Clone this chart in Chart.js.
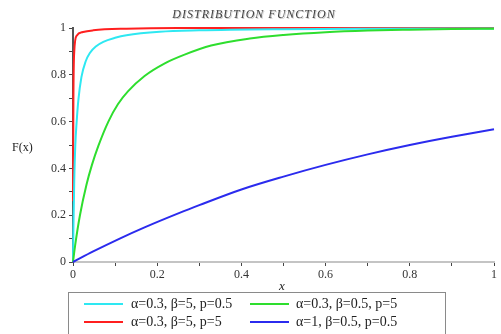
<!DOCTYPE html>
<html>
<head>
<meta charset="utf-8">
<script src="https://cdn.jsdelivr.net/npm/chart.js@4"></script>
<style>
  body { margin: 0; background: #fff; }
  #wrap { position: relative; width: 501px; height: 334px; }
  #legend {
    position: absolute; left: 68px; top: 292px; width: 376px; height: 39px;
    border: 1px solid #8a8a8a; font: 14px "Liberation Serif", serif; color: #222;
    display: grid; grid-template-columns: 167px 209px; grid-template-rows: 18px 18px; padding-top: 2px;
  }
  #legend .it { display: flex; align-items: center; white-space: nowrap; }
  #legend .ln { display: inline-block; width: 39px; height: 2px; margin: 0 8px 0 15px; }
  #legend .it:nth-child(even) .ln { margin-left: 14px; margin-right: 7px; }
</style>
</head>
<body>
<div id="wrap">
  <canvas id="c" width="501" height="334"></canvas>
  <div id="legend"></div>
</div>
<script>
const $ = id => document.getElementById(id);

// values
const cyanX = [0, 0.001, 0.003, 0.0055, 0.0087, 0.0126, 0.02, 0.03, 0.04, 0.055, 0.072, 0.1, 0.127, 0.206, 0.3, 0.5, 0.7, 1];
const cyanF = [0, 0.15, 0.35, 0.5, 0.6, 0.69, 0.79, 0.857, 0.893, 0.922, 0.941, 0.958, 0.969, 0.984, 0.99, 0.995, 0.997, 0.998];
const greenX = [0, 0.005, 0.0165, 0.032, 0.045, 0.06, 0.084, 0.107, 0.131, 0.17, 0.217, 0.265, 0.328, 0.42, 0.5, 0.6, 0.7, 0.8, 0.9, 1];
const greenF = [0, 0.07, 0.2, 0.33, 0.415, 0.495, 0.6, 0.675, 0.73, 0.795, 0.848, 0.886, 0.925, 0.955, 0.97, 0.982, 0.989, 0.993, 0.996, 0.997];
const redX = [0, 0.001, 0.003, 0.0087, 0.024, 0.048, 0.127, 0.25, 1];
const redF = [0.26, 0.7, 0.9, 0.967, 0.983, 0.99, 0.997, 1, 1];
const blueX = [0, 0.048, 0.111, 0.17, 0.253, 0.3, 0.4, 0.5, 0.6, 0.7, 0.8, 0.9, 1];
const blueF = [0, 0.045, 0.1, 0.148, 0.21, 0.243, 0.31, 0.365, 0.415, 0.46, 0.5, 0.535, 0.567];

const xTicks = [0, 0.2, 0.4, 0.6, 0.8, 1];
const yTicks = [0, 0.2, 0.4, 0.6, 0.8, 1];

const series = [
  { label: 'α=0.3, β=5, p=0.5', color: '#2ee8f2', x: cyanX, y: cyanF },
  { label: 'α=0.3, β=0.5, p=5', color: '#2ede2e', x: greenX, y: greenF },
  { label: 'α=0.3, β=5, p=5', color: '#ff1f1f', x: redX, y: redF },
  { label: 'α=1, β=0.5, p=0.5', color: '#2b2bee', x: blueX, y: blueF },
];
const drawOrder = [3, 1, 0, 2]; // blue, green, cyan, red on top

const pts = s => s.x.map((x, i) => ({ x, y: s.y[i] }));
const fmt = v => String(+v.toFixed(1));
const tickCb = list => (v) => list.some(t => Math.abs(t - v) < 1e-6) ? fmt(v) : '';

const serif = '"Liberation Serif", "DejaVu Serif", serif';

const texts = {
  id: 'texts',
  afterDraw(ch) {
    const ctx = ch.ctx, a = ch.chartArea;
    ctx.save();
    ctx.textAlign = 'center';
    ctx.textBaseline = 'middle';
    ctx.fillStyle = '#444';
    ctx.shadowColor = 'rgba(0,0,0,0.22)';
    ctx.shadowOffsetX = 1; ctx.shadowOffsetY = 1; ctx.shadowBlur = 0;
    ctx.font = 'italic 12px ' + serif;
    ctx.letterSpacing = '1px';
    ctx.fillText('DISTRIBUTION FUNCTION', 254, 15);
    ctx.restore();
    ctx.save();
    ctx.fillStyle = '#222';
    ctx.textBaseline = 'middle';
    ctx.font = '12px ' + serif;
    ctx.textAlign = 'left';
    ctx.fillText('F(x)', 12, (a.top + a.bottom) / 2 + 3);
    ctx.font = 'italic 13px ' + serif;
    ctx.textAlign = 'center';
    ctx.fillText('x', 282, a.bottom + 25);
    ctx.restore();
  }
};

new Chart($('c'), {
  type: 'line',
  data: {
    datasets: drawOrder.map(i => ({
      label: series[i].label, data: pts(series[i]),
      borderColor: series[i].color, borderWidth: 2, pointRadius: 0,
      cubicInterpolationMode: 'monotone', clip: false, fill: false,
    })),
  },
  options: {
    responsive: false, animation: false,
    layout: { padding: { left: 0, right: 7, top: 28, bottom: 0 } },
    plugins: { legend: { display: false }, tooltip: { enabled: false } },
    scales: {
      x: {
        type: 'linear', min: 0, max: 1,
        afterFit: s => { s.height = 72; },
        border: { color: '#c4c4c4', width: 2 },
        grid: { drawOnChartArea: false, drawTicks: true, tickLength: 4, color: '#444', tickWidth: 1 },
        ticks: { stepSize: 0.1, autoSkip: false, maxRotation: 0, padding: 2, color: '#333', font: { family: serif, size: 12 }, callback: tickCb(xTicks) },
      },
      y: {
        min: 0, max: 1,
        afterFit: s => { s.width = 73; },
        border: { color: '#555', width: 2 },
        grid: { drawOnChartArea: false, drawTicks: true, tickLength: 4, color: '#444', tickWidth: 1 },
        ticks: { stepSize: 0.1, autoSkip: false, padding: 3, color: '#333', font: { family: serif, size: 12 }, callback: tickCb(yTicks) },
      },
    },
  },
  plugins: [texts],
});

$('legend').innerHTML = series.map(s =>
  `<div class="it"><span class="ln" style="background:${s.color}"></span>${s.label}</div>`).join('');
</script>
</body>
</html>
